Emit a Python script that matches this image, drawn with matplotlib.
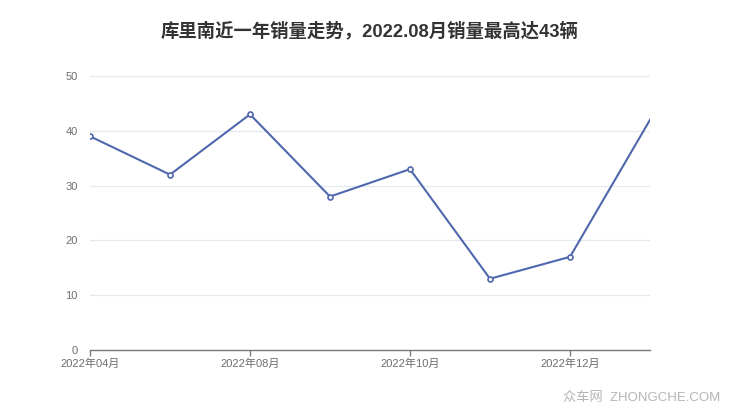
import matplotlib
matplotlib.use("Agg")
import matplotlib.pyplot as plt

plt.rcParams['font.family'] = ['Liberation Sans', 'Noto Sans CJK SC', 'DejaVu Sans']

# -------------------------
# data
# -------------------------
months = ["2022年04月", "2022年06月", "2022年08月", "2022年09月",
          "2022年10月", "2022年11月", "2022年12月", "2023年01月"]
sales = [39, 32, 43, 28, 33, 13, 17, 42]
yticks = [0, 10, 20, 30, 40, 50]
title = "库里南近一年销量走势，2022.08月销量最高达43辆"

# -------------------------
# plot
# -------------------------
fig = plt.figure(figsize=(7.4, 4.17), dpi=100)
ax = fig.add_axes([90/740, 1-350/417, 560/740, 274/417])

xs = list(range(len(months)))
line_c = "#4f67ad"
ax.plot(xs, sales, color=line_c, lw=1.5, zorder=3)
ax.plot(xs[:-1], sales[:-1], 'o', ms=3.6, mfc="white", mec=line_c, mew=1.2, zorder=4)

ax.set_xlim(0, len(months) - 1)
ax.set_ylim(0, 50)
ax.set_yticks(yticks)
ax.set_yticklabels([str(v) for v in yticks])
ax.set_xticks(xs[::2])
ax.set_xticklabels(months[::2])
ax.grid(axis='y', color="#e6e9ef", lw=0.9)
ax.set_axisbelow(True)

for s in ["top", "right", "left"]:
    ax.spines[s].set_visible(False)
ax.spines["bottom"].set_color("#7a7a7a")
ax.spines["bottom"].set_linewidth(1.0)
ax.tick_params(axis='y', length=0, pad=9, labelsize=8, labelcolor="#6e6e6e")
ax.tick_params(axis='x', length=4, width=1.0, color="#7a7a7a", pad=2,
               labelsize=8, labelcolor="#6e6e6e")

fig.text(0.5, 1-31/417, title, ha='center', va='center',
         fontsize=13.2, fontweight='bold', color="#333333")
fig.text(720/740, 1-398/417, "众车网  ZHONGCHE.COM", ha='right', va='center',
         fontsize=9.5, color="#b5b5b5")

fig.savefig("out.png", dpi=100)
